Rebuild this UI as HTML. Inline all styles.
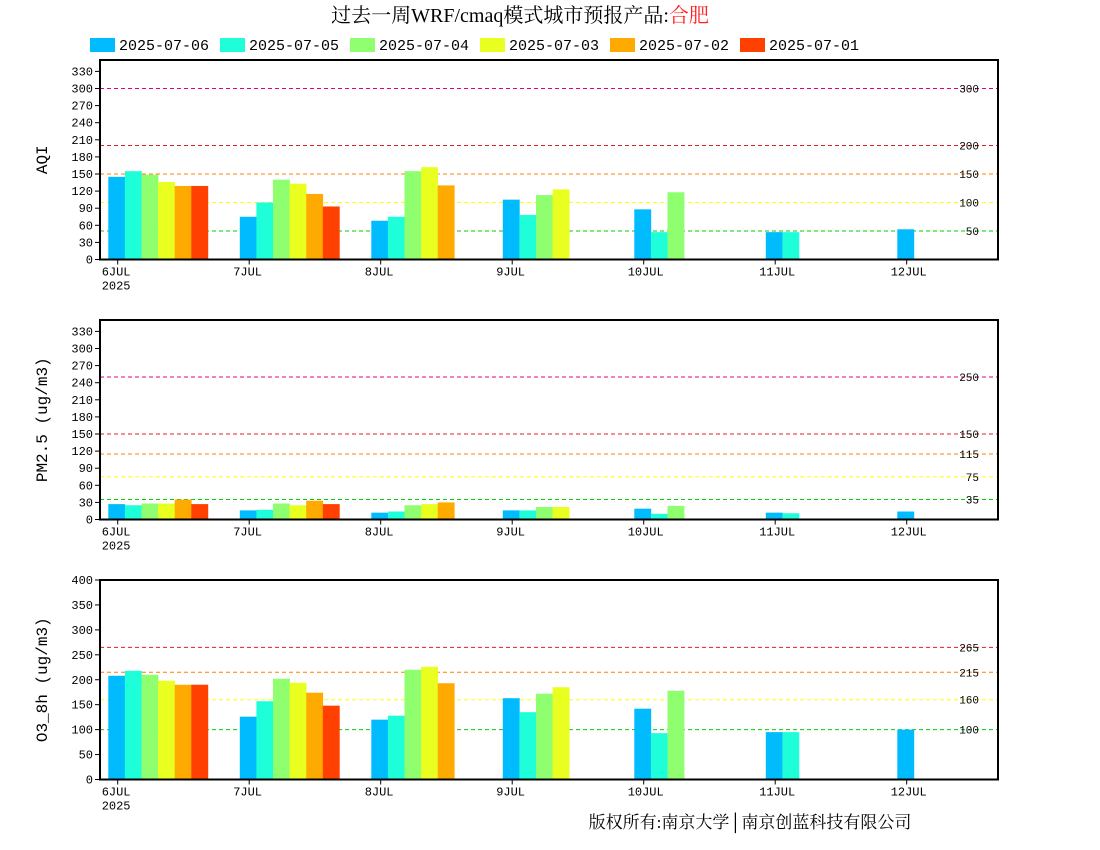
<!DOCTYPE html>
<html><head><meta charset="utf-8"><style>
body{margin:0;background:#fff;}
svg{display:block;font-family:"Liberation Mono","Noto Sans CJK SC",monospace;}
</style></head><body>
<svg id="c" width="1100" height="850" xmlns="http://www.w3.org/2000/svg">
<text x="520" y="22" font-size="20" text-anchor="middle" font-family="Liberation Serif, Noto Serif CJK SC, serif">过去一周WRF/cmaq模式城市预报产品:<tspan fill="#ff2020">合肥</tspan></text>
<text x="750" y="828" font-size="17" text-anchor="middle" font-family="Liberation Serif, Noto Serif CJK SC, serif">版权所有:南京大学│南京创蓝科技有限公司</text>
</svg>
<script>
const seriesNames=["2025-07-06","2025-07-05","2025-07-04","2025-07-03","2025-07-02","2025-07-01"];
const seriesColors=["#00bcff","#1effd9","#8fff6f","#e8ff1f","#ffaa00","#ff4000"];
const dayLabels=["6JUL","7JUL","8JUL","9JUL","10JUL","11JUL","12JUL"];
const aqiValues=[[145,155,149,136,129,129],[75,100,140,133,115,93],[68,75,155,162,130],[105,78,113,123],[88,48,118],[48,48],[53]];
const pmValues=[[27,25,28,28,35,27],[16,17,28,25,33,27],[12,14,25,27,30],[16,16,22,22],[19,10,24],[12,11],[14]];
const o3Values=[[208,218,210,198,190,190],[126,157,202,194,174,148],[120,128,220,226,193],[163,135,172,185],[142,93,178],[95,95],[100]];
const aqiTicks=[0,30,60,90,120,150,180,210,240,270,300,330];
const pmTicks=[0,30,60,90,120,150,180,210,240,270,300,330];
const o3Ticks=[0,50,100,150,200,250,300,350,400];
const aqiRefs=[300,200,150,100,50];
const pmRefs=[250,150,115,75,35];
const o3Refs=[265,215,160,100];
const refColors5=["#e0007f","#e02020","#ff8000","#ffff00","#00d000"];
const refColors4=["#e02020","#ff8000","#ffff00","#00d000"];
const NS="http://www.w3.org/2000/svg";
const svg=document.getElementById('c');
function mk(tag,attrs,parent){const e=document.createElementNS(NS,tag);for(const k in attrs)e.setAttribute(k,attrs[k]);(parent||svg).appendChild(e);return e;}
// legend
seriesNames.forEach((n,i)=>{
  const g=mk('g',{});
  
  
  mk('rect',{x:90+i*130,y:38,width:25,height:14,fill:seriesColors[i]},g);
  const t=mk('text',{x:119+i*130,y:50,'font-size':15},g);t.textContent=n;
});
const X0=100,X1=998,tick0=117.7,daySp=131.5,barW=16.6;
function xDay(d){return tick0+d*daySp;}
function panel(name,top,bot,ymax,ticks,refs,refCols,vals,label){
  const g=mk('g',{});
  
  
  const y=v=>bot-(v/ymax)*(bot-top);
  refs.forEach((r,i)=>{
    const l=mk('line',{x1:X0,x2:X1,y1:y(r),y2:y(r),stroke:refCols[i],'stroke-width':1,'stroke-dasharray':'4,3'},g);
    
    
    const t=mk('text',{x:979,y:y(r)+4,'font-size':11,'text-anchor':'end'},g);t.textContent=r;
  });
  vals.forEach((arr,d)=>{arr.forEach((v,i)=>{
    const b=mk('rect',{x:xDay(d)-9.4+i*barW,y:y(v),width:barW+0.3,height:bot-y(v),fill:seriesColors[i]},g);
    
    
  });});
  mk('rect',{x:X0,y:top,width:X1-X0,height:bot-top,fill:'none',stroke:'#000','stroke-width':2},g);
  ticks.forEach(t=>{
    mk('line',{x1:X0-5,x2:X0,y1:y(t),y2:y(t),stroke:'#000'},g);
    const tx=mk('text',{x:X0-7,y:y(t)+4,'font-size':12,'text-anchor':'end'},g);tx.textContent=t;
  });
  dayLabels.forEach((l,d)=>{
    mk('line',{x1:xDay(d),x2:xDay(d),y1:bot,y2:bot+5,stroke:'#000'},g);
    const tx=mk('text',{x:xDay(d)-16,y:bot+16,'font-size':12},g);tx.textContent=l;
  });
  const yr=mk('text',{x:xDay(0)-16,y:bot+30,'font-size':12},g);yr.textContent='2025';
  const yl=mk('text',{x:0,y:0,'font-size':16,'text-anchor':'middle',transform:`translate(47,${(top+bot)/2}) rotate(-90)`},g);
  yl.textContent=label;
  
  
}
panel('aqi',60,259.5,350,aqiTicks,aqiRefs,refColors5,aqiValues,'AQI');
panel('pm25',320,519.5,350,pmTicks,pmRefs,refColors5,pmValues,'PM2.5 (ug/m3)');
panel('o3',580,779.5,400,o3Ticks,o3Refs,refColors4,o3Values,'O3_8h (ug/m3)');
</script>
</body></html>
